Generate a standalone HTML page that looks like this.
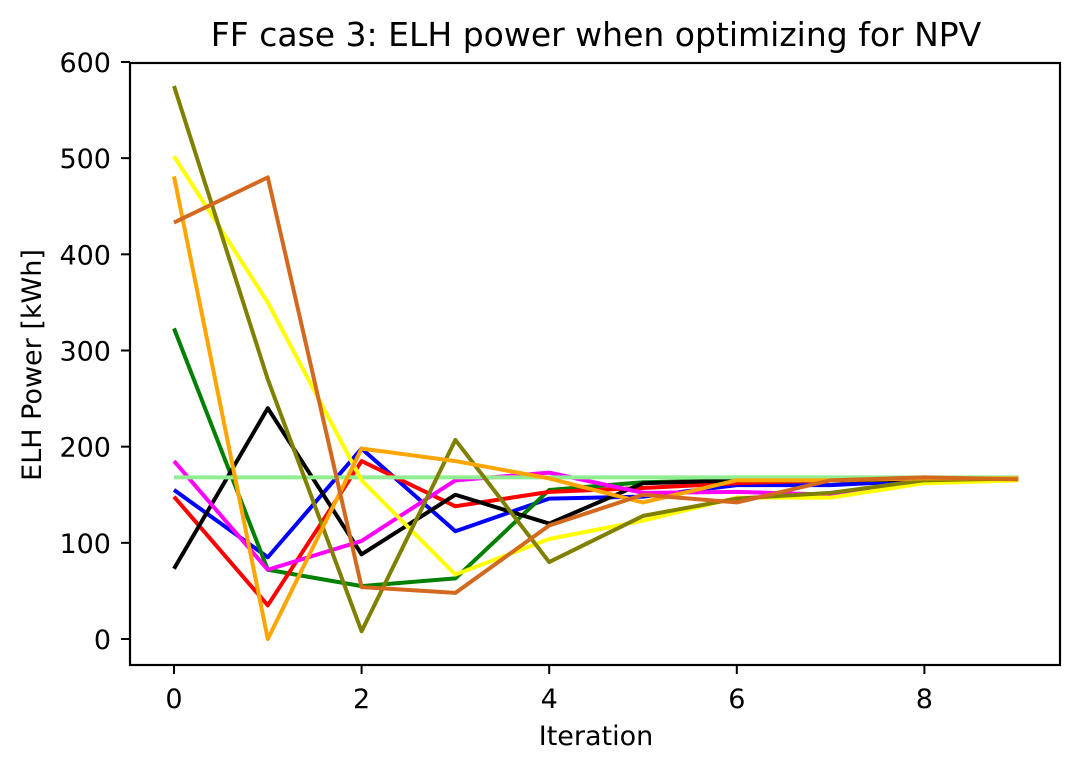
<!DOCTYPE html>
<html><head><meta charset="utf-8"><style>
body{margin:0;background:#fff;font-family:"DejaVu Sans","Liberation Sans",sans-serif}
</style></head><body>
<svg id="chart" width="1081" height="773" xmlns="http://www.w3.org/2000/svg" font-family="DejaVu Sans, Liberation Sans, sans-serif">
<rect width="1081" height="773" fill="#fff"/>
<text x="596" y="46" text-anchor="middle" font-size="33">FF case 3: ELH power when optimizing for NPV</text>
<g id="series"></g>
<g id="axes"></g>
<text x="596" y="745" text-anchor="middle" font-size="27">Iteration</text>
<text transform="translate(41,365) rotate(-90)" text-anchor="middle" font-size="27">ELH Power [kWh]</text>
</svg>
<script>
const iterations=[0,1,2,3,4,5,6,7,8,9];
const green=[323,72,55,63,155,163,165,165,166,167];
const blue=[155,85,198,112,146,148,160,160,165,167];
const red=[148,35,185,138,153,157,162,165,167,167];
const black=[73,240,88,150,120,162,165,165,166,167];
const magenta=[185,72,102,165,173,152,153,150,166,167];
const yellow=[502,350,165,67,104,123,147,147,162,165];
const olive=[575,270,8,207,80,128,146,152,165,167];
const orange=[481,0,198,185,167,142,165,165,167,167];
const chocolate=[433,480,54,48,118,150,142,165,168,166];
const lightgreen=[168,168,168,168,168,168,168,168,168,168];
const xTicks=[0,2,4,6,8];
const yTicks=[0,100,200,300,400,500,600];
const L=130,R=1060,T=63,B=665;
function xs(v){return 174+v*93.8;}
function ys(v){return 639-v*0.9617;}
const NS="http://www.w3.org/2000/svg";
const sg=document.getElementById('series');
const series=[[blue,'blue','series-blue'],[green,'green','series-green'],[red,'red','series-red'],[black,'black','series-black'],[magenta,'magenta','series-magenta'],[lightgreen,'#90ee90','series-lightgreen'],[yellow,'yellow','series-yellow'],[olive,'olive','series-olive'],[orange,'orange','series-orange'],[chocolate,'chocolate','series-chocolate']];
series.forEach(s=>{
 const p=document.createElementNS(NS,'polyline');
 p.setAttribute('points',s[0].map((v,i)=>xs(iterations[i])+','+ys(v)).join(' '));
 p.setAttribute('fill','none');p.setAttribute('stroke',s[1]);p.setAttribute('stroke-width','4');
 p.setAttribute('stroke-linejoin','round');
 
 
 sg.appendChild(p);
});
const ax=document.getElementById('axes');
const fr=document.createElementNS(NS,'rect');
fr.setAttribute('x',L);fr.setAttribute('y',T);fr.setAttribute('width',R-L);fr.setAttribute('height',B-T);
fr.setAttribute('fill','none');fr.setAttribute('stroke','#000');fr.setAttribute('stroke-width','2.2');


ax.appendChild(fr);
xTicks.forEach(t=>{
 const l=document.createElementNS(NS,'line');
 l.setAttribute('x1',xs(t));l.setAttribute('x2',xs(t));l.setAttribute('y1',B);l.setAttribute('y2',B+9);l.setAttribute('stroke','#000');l.setAttribute('stroke-width','2');
 
 
 ax.appendChild(l);
 const tx=document.createElementNS(NS,'text');
 tx.setAttribute('x',xs(t));tx.setAttribute('y',708);tx.setAttribute('text-anchor','middle');tx.setAttribute('font-size','27');
 tx.textContent=t;
 
 
 ax.appendChild(tx);
});
yTicks.forEach(t=>{
 const l=document.createElementNS(NS,'line');
 l.setAttribute('x1',L-9);l.setAttribute('x2',L);l.setAttribute('y1',ys(t));l.setAttribute('y2',ys(t));l.setAttribute('stroke','#000');l.setAttribute('stroke-width','2');
 
 
 ax.appendChild(l);
 const tx=document.createElementNS(NS,'text');
 tx.setAttribute('x',111);tx.setAttribute('y',ys(t)+10);tx.setAttribute('text-anchor','end');tx.setAttribute('font-size','27');
 tx.textContent=t;
 
 
 ax.appendChild(tx);
});
</script>
</body></html>
